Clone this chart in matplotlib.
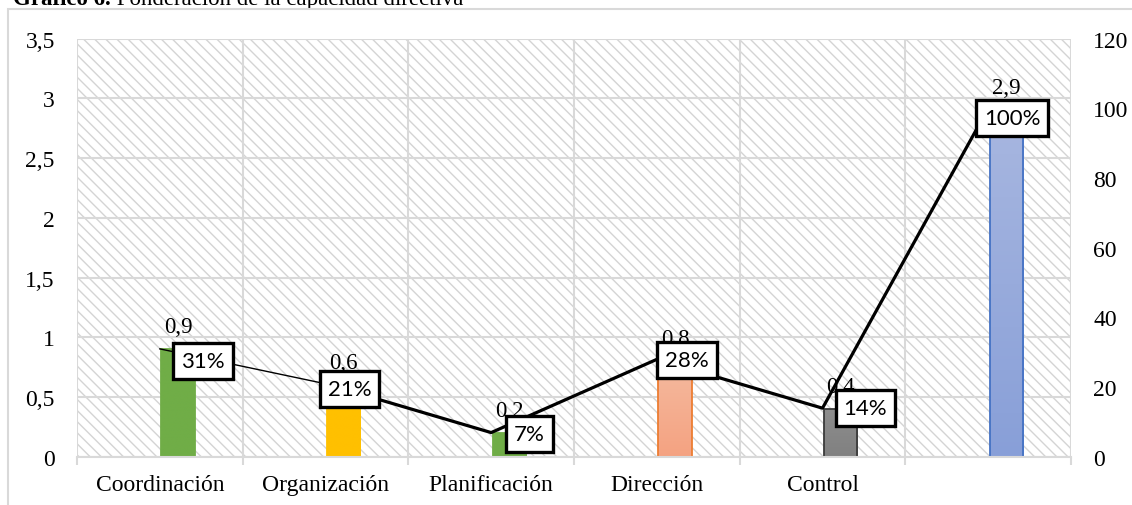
"""Ponderación de la capacidad directiva: barras por dimensión y línea de porcentaje."""

import matplotlib
matplotlib.use("Agg")
import matplotlib.pyplot as plt
import numpy as np
from matplotlib.colors import LinearSegmentedColormap
from matplotlib.patches import Rectangle
from matplotlib.ticker import FuncFormatter, MultipleLocator

categories = ["Coordinación", "Organización", "Planificación", "Dirección", "Control", ""]
scores = [0.9, 0.6, 0.2, 0.8, 0.4, 2.9]
percent = [31, 21, 7, 28, 14, 100]

# (top, bottom, edge) colour for each bar
bar_styles = [
    ("#70AD47", "#70AD47", "#70AD47"),
    ("#FFC000", "#FFC000", "#FFC000"),
    ("#70AD47", "#70AD47", "#70AD47"),
    ("#F5BA9F", "#F4A281", "#ED7D31"),
    ("#8E8E8E", "#808080", "#3A3A3A"),
    ("#A8B7E0", "#889FD8", "#4472C4"),
]
# offsets (pixels) of each percentage box from its point
label_offsets = [(43, -12), (24, -5), (38, -1), (30, -1), (43, 0), (24, -10)]

SERIF = "Liberation Serif"
GRID = "#D9D9D9"

plt.rcParams["font.family"] = SERIF
plt.rcParams["hatch.linewidth"] = 1.0

fig = plt.figure(figsize=(11.32, 5.06), dpi=100)
ax = fig.add_axes([77 / 1132, 48 / 506, 994 / 1132, 418.5 / 506])

# outer frame of the chart area
fig.patches.append(Rectangle((8 / 1132, -0.1), 2, (506 - 9.5) / 506 + 0.1,
                             transform=fig.transFigure, fill=False,
                             edgecolor=GRID, lw=1.5))

# title, running off the top edge
t1 = fig.text(13 / 1132, 1 - 5 / 506, "Gráfico 6.", fontsize=16.5,
              fontweight="bold", va="baseline", ha="left")
ax.annotate(" Ponderación de la capacidad directiva", xy=(1, 0), xycoords=t1,
            fontsize=16.5, va="bottom", ha="left", annotation_clip=False)

# hatched plot background
ax.add_patch(Rectangle((0, 0), 1, 1, transform=ax.transAxes, facecolor="white",
                       edgecolor="#D4D4D4", hatch="\\\\\\", lw=0, zorder=0))

x = np.arange(len(categories))
bar_w = 0.2
bar_x = x + 0.01

bars = ax.bar(bar_x, scores, width=bar_w, align="edge", color="none",
              linewidth=0, zorder=2)
grad = np.linspace(0, 1, 256).reshape(-1, 1)
for bar, (top, bottom, edge) in zip(bars, bar_styles):
    x0, w, h = bar.get_x(), bar.get_width(), bar.get_height()
    cmap = LinearSegmentedColormap.from_list("g", [bottom, top])
    im = ax.imshow(grad, cmap=cmap, extent=[x0, x0 + w, 0, h], origin="lower",
                   aspect="auto", zorder=2, interpolation="bilinear")
    im.set_clip_path(bar)
    ax.add_patch(Rectangle((x0, 0), w, h, fill=False, edgecolor=edge,
                           lw=1.3, zorder=2.1))

for bx, v in zip(bar_x + bar_w / 2, scores):
    ax.annotate(f"{v:g}".replace(".", ","), xy=(bx, v), xytext=(0, 9),
                textcoords="offset points", ha="center", va="bottom",
                fontsize=16.5, zorder=3)

ax.set_xlim(-0.5, len(categories) - 0.5)
ax.set_ylim(0, 3.5)
ax.set_xticks(x)
ax.set_xticklabels(categories)
ax.set_xticks(np.arange(len(categories) + 1) - 0.5, minor=True)
ax.yaxis.set_major_locator(MultipleLocator(0.5))
ax.yaxis.set_major_formatter(FuncFormatter(lambda v, _: f"{v:g}".replace(".", ",")))
ax.tick_params(axis="x", which="major", length=0, pad=12, labelsize=17)
ax.tick_params(axis="x", which="minor", length=6, color=GRID, width=1.5)
ax.tick_params(axis="y", length=0, pad=16, labelsize=17)
ax.set_axisbelow(True)
ax.grid(axis="y", color=GRID, lw=1.5)
ax.grid(axis="x", which="minor", color=GRID, lw=1.5)
for side in ["top", "left", "right"]:
    ax.spines[side].set_visible(False)
ax.spines["bottom"].set_color(GRID)
ax.spines["bottom"].set_linewidth(1.5)

# percentage line on the secondary axis
ax2 = ax.twinx()
ax2.plot(x[:2], percent[:2], color="black", lw=1.0, zorder=2)
ax2.plot(x[1:], percent[1:], color="black", lw=2.3, zorder=2)
for xi, p, (dx, dy) in zip(x, percent, label_offsets):
    ax2.annotate(f"{p}%", xy=(xi, p), xytext=(dx * 0.72, dy * 0.72),
                 textcoords="offset points", ha="center", va="center",
                 fontsize=16, family="Lato", zorder=4,
                 bbox=dict(boxstyle="square,pad=0.36", facecolor="white",
                           edgecolor="black", lw=2.4))
ax2.set_ylim(0, 120)
ax2.yaxis.set_major_locator(MultipleLocator(20))
ax2.tick_params(axis="y", length=0, pad=16, labelsize=17)
for side in ax2.spines:
    ax2.spines[side].set_visible(False)

fig.savefig("out.png", dpi=100)
